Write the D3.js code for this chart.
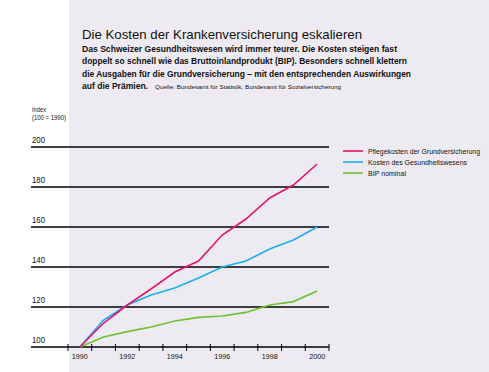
<!DOCTYPE html>
<html>
<head>
<meta charset="utf-8">
<script src="https://cdn.jsdelivr.net/npm/d3@7"></script>
<style>
  body { margin: 0; background: #fff; }
  text { font-family: "Liberation Sans", Arial, sans-serif; fill: #111; }
</style>
</head>
<body>
<svg id="chart"></svg>
<script>
// data (index, 1990 = 100)
var years = [1990, 1991, 1992, 1993, 1994, 1995, 1996, 1997, 1998, 1999, 2000];
var pflege = [100, 112, 121, 129, 137.5, 143, 156, 164, 174.5, 181, 191.5];
var gesund = [100, 113.5, 121, 126, 129.5, 134.5, 140, 143, 149, 153.5, 160];
var bip = [100, 105, 107.7, 110, 113, 114.8, 115.5, 117.3, 121, 122.7, 128];
var yTicks = [100, 120, 140, 160, 180, 200];
var xLabels = [1990, 1992, 1994, 1996, 1998, 2000];
var seriesNames = ["Pflegekosten der Grundversicherung", "Kosten des Gesundheitswesens", "BIP nominal"];
var seriesColors = ["#e3146e", "#19aeee", "#6cc232"];

var W = 489, H = 372;
var svg = d3.select("#chart").attr("width", W).attr("height", H);

// squeeze text to a width (no narrow font available)
function fit(sel, w) {
    return sel.attr("textLength", w).attr("lengthAdjust", "spacingAndGlyphs");
}

// background panel
svg.append("rect").attr("x", 69).attr("y", 0).attr("width", W - 69).attr("height", H).attr("fill", "#edebf1");

// title block
fit(svg.append("text").attr("x", 82).attr("y", 39)
    .style("font-size", "13.2px").text("Die Kosten der Krankenversicherung eskalieren"), 280);
var sub = [
    "Das Schweizer Gesundheitswesen wird immer teurer. Die Kosten steigen fast",
    "doppelt so schnell wie das Bruttoinlandprodukt (BIP). Besonders schnell klettern",
    "die Ausgaben für die Grundversicherung – mit den entsprechenden Auswirkungen",
    "auf die Prämien."
];
var subW = [315, 325, 329, 66];
sub.forEach(function(s, i) {
    fit(svg.append("text").attr("x", 82).attr("y", 52 + i * 12.4)
        .style("font-size", "9.6px").style("font-weight", "bold").text(s), subW[i]);
});
fit(svg.append("text").attr("x", 155).attr("y", 89)
    .style("font-size", "6.2px").text("Quelle: Bundesamt für Statistik, Bundesamt für Sozialversicherung"), 186);

// scales
var x = d3.scaleBand().domain(years).range([68, 329]);
var y = d3.scaleLinear().domain([100, 200]).range([347, 147]);
var cx = function(d) { return x(d) + x.bandwidth() / 2; };

// axis label
fit(svg.append("text").attr("x", 32).attr("y", 112).style("font-size", "7px").text("Index"), 14);
fit(svg.append("text").attr("x", 32).attr("y", 120).style("font-size", "7px").text("(100 = 1990)"), 34);

// gridlines + y labels
yTicks.forEach(function(t) {
    svg.append("line").attr("x1", 31).attr("x2", 329).attr("y1", y(t)).attr("y2", y(t))
        .attr("stroke", "#000").attr("stroke-width", 1.3);
    fit(svg.append("text").attr("x", 32).attr("y", y(t) - 4).style("font-size", "8.5px").text(t), 13);
});

// x axis ticks
var tickPos = years.map(function(d) { return x(d); }).concat([x(2000) + x.bandwidth()]);
tickPos.forEach(function(p) {
    svg.append("line").attr("x1", p).attr("x2", p).attr("y1", 344).attr("y2", 351)
        .attr("stroke", "#000").attr("stroke-width", 1);
});
xLabels.forEach(function(d) {
    fit(svg.append("text").attr("x", cx(d) - 8).attr("y", 359)
        .style("font-size", "8px").text(d), 16);
});

// lines
var line = d3.line().x(function(d, i) { return cx(years[i]); }).y(function(d) { return y(d); });
[bip, gesund, pflege].forEach(function(s, k) {
    svg.append("path").datum(s).attr("d", line).attr("fill", "none")
        .attr("stroke", seriesColors[2 - k]).attr("stroke-width", 1.6);
});

// legend
var legW = [112, 99, 38];
seriesNames.forEach(function(n, i) {
    var ly = 151 + i * 11;
    svg.append("line").attr("x1", 343).attr("x2", 363).attr("y1", ly).attr("y2", ly)
        .attr("stroke", seriesColors[i]).attr("stroke-width", 1.6);
    fit(svg.append("text").attr("x", 368).attr("y", ly + 2.5).style("font-size", "6.9px").text(n), legW[i]);
});
</script>
</body>
</html>
